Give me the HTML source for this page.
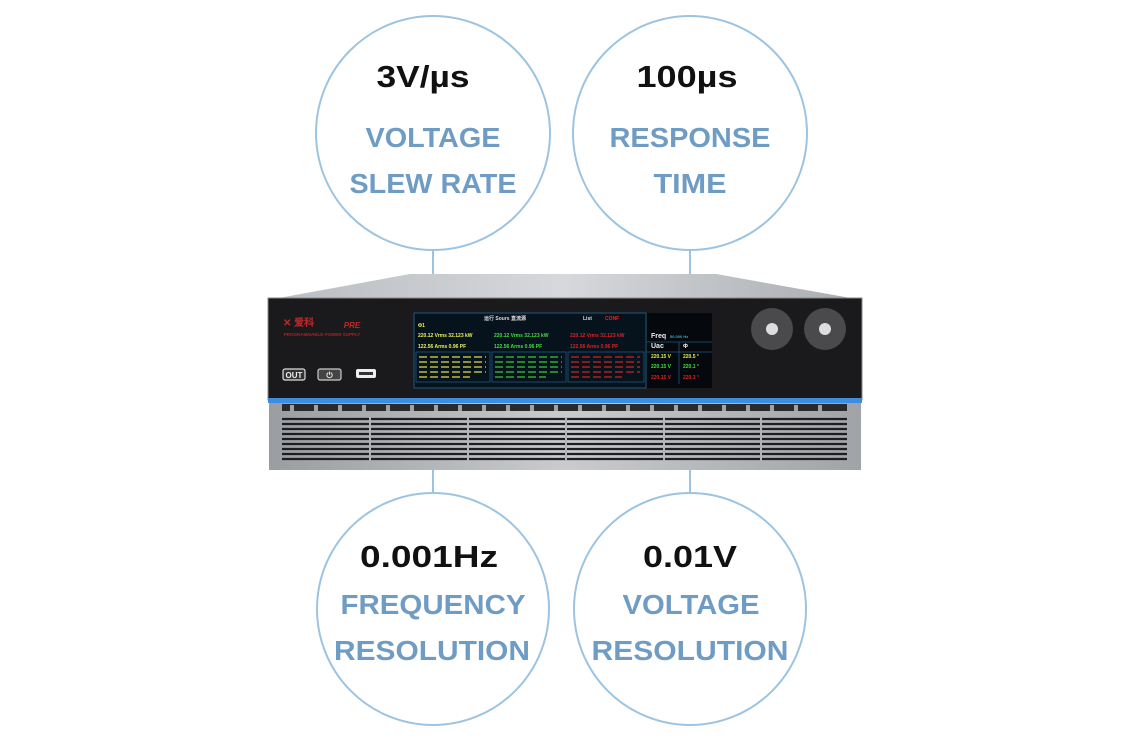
<!DOCTYPE html><html><head><meta charset="utf-8"><style>
body{margin:0;background:#fff;width:1123px;height:744px;overflow:hidden}
svg text{font-family:"Liberation Sans",sans-serif;font-weight:bold;text-anchor:middle}
svg text.s{text-anchor:start}
</style></head><body>
<svg width="1123" height="744" viewBox="0 0 1123 744">
<defs>
<linearGradient id="top" x1="0" y1="0" x2="1" y2="0"><stop offset="0" stop-color="#b9bcc0"/><stop offset="0.5" stop-color="#d6d8db"/><stop offset="1" stop-color="#a9acb0"/></linearGradient>
<linearGradient id="gr" x1="0" y1="0" x2="1" y2="0"><stop offset="0" stop-color="#9a9da1"/><stop offset="0.5" stop-color="#c9cbce"/><stop offset="1" stop-color="#a0a3a7"/></linearGradient>
</defs>
<g fill="none" stroke="#9cc4e2" stroke-width="2">
<circle cx="433" cy="133" r="117"/><circle cx="690" cy="133" r="117"/>
<circle cx="433" cy="609" r="116"/><circle cx="690" cy="609" r="116"/>
<line x1="433" y1="250" x2="433" y2="274"/><line x1="690" y1="250" x2="690" y2="274"/>
<line x1="433" y1="470" x2="433" y2="493"/><line x1="690" y1="470" x2="690" y2="493"/>
</g>
<text x="423" y="87" font-size="31" fill="#111" textLength="93" lengthAdjust="spacingAndGlyphs">3V/µs</text>
<text x="433" y="147" font-size="28" fill="#6f9cc4" textLength="135" lengthAdjust="spacingAndGlyphs">VOLTAGE</text>
<text x="433" y="193" font-size="28" fill="#6f9cc4" textLength="167" lengthAdjust="spacingAndGlyphs">SLEW RATE</text>
<text x="687" y="87" font-size="31" fill="#111" textLength="101" lengthAdjust="spacingAndGlyphs">100µs</text>
<text x="690" y="147" font-size="28" fill="#6f9cc4" textLength="161" lengthAdjust="spacingAndGlyphs">RESPONSE</text>
<text x="690" y="193" font-size="28" fill="#6f9cc4" textLength="73" lengthAdjust="spacingAndGlyphs">TIME</text>
<text x="429" y="567" font-size="31" fill="#111" textLength="138" lengthAdjust="spacingAndGlyphs">0.001Hz</text>
<text x="433" y="614" font-size="28" fill="#6f9cc4" textLength="185" lengthAdjust="spacingAndGlyphs">FREQUENCY</text>
<text x="432" y="660" font-size="28" fill="#6f9cc4" textLength="196" lengthAdjust="spacingAndGlyphs">RESOLUTION</text>
<text x="690" y="567" font-size="31" fill="#111" textLength="94" lengthAdjust="spacingAndGlyphs">0.01V</text>
<text x="691" y="614" font-size="28" fill="#6f9cc4" textLength="137" lengthAdjust="spacingAndGlyphs">VOLTAGE</text>
<text x="690" y="660" font-size="28" fill="#6f9cc4" textLength="197" lengthAdjust="spacingAndGlyphs">RESOLUTION</text>
<!-- device -->
<polygon points="268,300 410,274 716,274 862,300" fill="url(#top)"/>
<rect x="268" y="298" width="594" height="102" fill="#1a1a1c" stroke="#888" stroke-width="1"/>
<rect x="268" y="398" width="594" height="5" fill="#3d8ee0"/>
<rect x="269" y="403" width="592" height="67" fill="url(#gr)"/>
<rect x="282" y="404" width="565" height="7" fill="#2a2a2c"/>
<g fill="#9fa2a6">
<rect x="290" y="405" width="4" height="6"/><rect x="314" y="405" width="4" height="6"/><rect x="338" y="405" width="4" height="6"/><rect x="362" y="405" width="4" height="6"/><rect x="386" y="405" width="4" height="6"/><rect x="410" y="405" width="4" height="6"/><rect x="434" y="405" width="4" height="6"/><rect x="458" y="405" width="4" height="6"/><rect x="482" y="405" width="4" height="6"/><rect x="506" y="405" width="4" height="6"/><rect x="530" y="405" width="4" height="6"/><rect x="554" y="405" width="4" height="6"/><rect x="578" y="405" width="4" height="6"/><rect x="602" y="405" width="4" height="6"/><rect x="626" y="405" width="4" height="6"/><rect x="650" y="405" width="4" height="6"/><rect x="674" y="405" width="4" height="6"/><rect x="698" y="405" width="4" height="6"/><rect x="722" y="405" width="4" height="6"/><rect x="746" y="405" width="4" height="6"/><rect x="770" y="405" width="4" height="6"/><rect x="794" y="405" width="4" height="6"/><rect x="818" y="405" width="4" height="6"/>
</g>
<g stroke="#1e1e20" stroke-width="2.2">
<line x1="282" y1="419" x2="847" y2="419"/><line x1="282" y1="424" x2="847" y2="424"/><line x1="282" y1="429" x2="847" y2="429"/><line x1="282" y1="434" x2="847" y2="434"/><line x1="282" y1="439" x2="847" y2="439"/><line x1="282" y1="444" x2="847" y2="444"/><line x1="282" y1="449" x2="847" y2="449"/><line x1="282" y1="454" x2="847" y2="454"/><line x1="282" y1="459" x2="847" y2="459"/>
</g>
<g stroke="#b0b3b7" stroke-width="2"><line x1="370" y1="417" x2="370" y2="461"/><line x1="468" y1="417" x2="468" y2="461"/><line x1="566" y1="417" x2="566" y2="461"/><line x1="664" y1="417" x2="664" y2="461"/><line x1="761" y1="417" x2="761" y2="461"/></g>
<!-- logo -->
<text class="s" x="283" y="326" font-size="10" fill="#c0282a">✕ 爱科</text>
<text x="352" y="328" font-size="8" fill="#c0282a" font-style="italic">PRE</text>
<text x="322" y="336" font-size="4.5" fill="#a82224">PROGRAMMABLE POWER SUPPLY</text>
<!-- buttons -->
<rect x="283" y="369" width="22" height="11" rx="2" fill="#333" stroke="#ddd" stroke-width="1.2"/>
<text x="294" y="378" font-size="8" fill="#eee">OUT</text>
<rect x="318" y="369" width="23" height="11" rx="2" fill="#444" stroke="#ccc" stroke-width="1.2"/>
<text x="329.5" y="378" font-size="8" fill="#eee">⏻</text>
<rect x="356" y="369" width="20" height="9" rx="2" fill="#eee"/><rect x="359" y="372" width="14" height="3" fill="#333"/>
<!-- screen -->
<rect x="414" y="313" width="298" height="75" fill="#05080d"/>
<rect x="414" y="313" width="232" height="75" fill="#06121c" stroke="#1d5b82" stroke-width="1"/>
<g font-size="5">
<text class="s" x="484" y="320" fill="#ddd">运行  Sours  直流源</text>
<text class="s" x="583" y="320" fill="#ddd">List</text><text class="s" x="605" y="320" fill="#e22">CONF</text>
<text class="s" x="418" y="327" fill="#ee4">Φ1</text>
<text class="s" x="418" y="337" fill="#ee5">220.12 Vrms  32.123 kW</text>
<text class="s" x="494" y="337" fill="#4d4">220.12 Vrms  32.123 kW</text>
<text class="s" x="570" y="337" fill="#d22">220.12 Vrms  32.123 kW</text>
<text class="s" x="418" y="348" fill="#ee5">122.56 Arms     0.96 PF</text>
<text class="s" x="494" y="348" fill="#4d4">122.56 Arms     0.96 PF</text>
<text class="s" x="570" y="348" fill="#d22">122.56 Arms     0.96 PF</text>
<text class="s" x="651" y="338" fill="#eee" font-size="7">Freq</text><text class="s" x="670" y="338" fill="#3ac" font-size="4">50.000 Hz</text>
<text class="s" x="651" y="348" fill="#eee" font-size="7">Uac</text><text class="s" x="683" y="348" fill="#eee" font-size="6">Φ</text>
<text class="s" x="651" y="358" fill="#ee5">220.15 V</text><text class="s" x="683" y="358" fill="#ee5">220.5 °</text>
<text class="s" x="651" y="368" fill="#4d4">220.15 V</text><text class="s" x="683" y="368" fill="#4d4">220.1 °</text>
<text class="s" x="651" y="379" fill="#d22">220.15 V</text><text class="s" x="683" y="379" fill="#d22">220.3 °</text>
</g>
<g stroke="#1d5b82" stroke-width="0.8" fill="none">
<rect x="416" y="352" width="74" height="30"/><rect x="492" y="352" width="74" height="30"/><rect x="568" y="352" width="76" height="30"/>
<line x1="646" y1="342" x2="712" y2="342"/><line x1="646" y1="352" x2="712" y2="352"/><line x1="679" y1="342" x2="679" y2="384"/>
</g>
<g stroke-width="1.5" stroke-dasharray="8 3">
<line x1="419" y1="357" x2="486" y2="357" stroke="#bb4"/><line x1="419" y1="362" x2="486" y2="362" stroke="#bb4"/><line x1="419" y1="367" x2="486" y2="367" stroke="#bb4"/><line x1="419" y1="372" x2="486" y2="372" stroke="#bb4"/><line x1="419" y1="377" x2="470" y2="377" stroke="#bb4"/>
<line x1="495" y1="357" x2="562" y2="357" stroke="#3a3"/><line x1="495" y1="362" x2="562" y2="362" stroke="#3a3"/><line x1="495" y1="367" x2="562" y2="367" stroke="#3a3"/><line x1="495" y1="372" x2="562" y2="372" stroke="#3a3"/><line x1="495" y1="377" x2="546" y2="377" stroke="#3a3"/>
<line x1="571" y1="357" x2="640" y2="357" stroke="#a22"/><line x1="571" y1="362" x2="640" y2="362" stroke="#a22"/><line x1="571" y1="367" x2="640" y2="367" stroke="#a22"/><line x1="571" y1="372" x2="640" y2="372" stroke="#a22"/><line x1="571" y1="377" x2="622" y2="377" stroke="#a22"/>
</g>
<!-- knobs -->
<circle cx="772" cy="329" r="21" fill="#4a4a4c"/><circle cx="772" cy="329" r="6" fill="#ddd"/>
<circle cx="825" cy="329" r="21" fill="#4a4a4c"/><circle cx="825" cy="329" r="6" fill="#ddd"/>
</svg>
</body></html>
